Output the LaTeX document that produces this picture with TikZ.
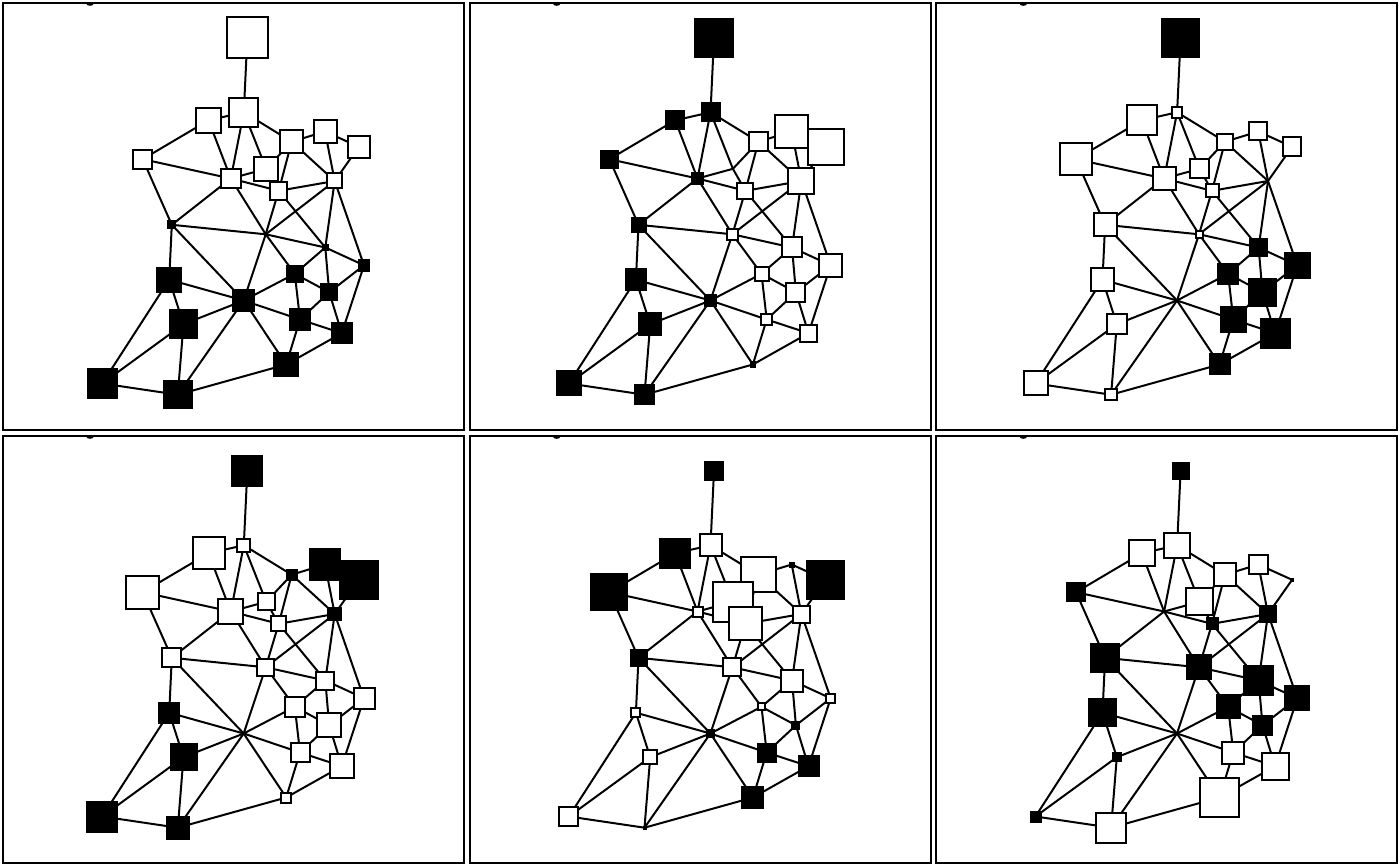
\documentclass[tikz,border=0pt]{standalone}
\usetikzlibrary{backgrounds}
\tikzset{
  nd/.style={rectangle, draw=black, line width=2pt, inner sep=0pt, outer sep=0pt},
  edge/.style={draw=black, line width=2pt},
  frame/.style={draw=black, line width=2pt},
  bump/.style={fill=black},
}
\newcommand\placecoords{%
  \foreach \n/\x/\y in {A/247.3/38, B/243.8/112.3, C/208.5/120.3, D/291.7/141.7,
    E/325/131.5, F/358.8/146.8, G/142.7/159.2, H/230.8/178.5, I/266.2/168.8,
    J/278.7/190.8, K/334.7/181, L/171.8/224.8, M/265.7/234.3, N/325.3/247.5,
    O/364/265.3, P/169.2/279.7, Q/294.8/273.8, R/329.2/292.3, S/243.7/300.5,
    T/183.5/324.2, U/300/319.5, V/341.8/333.2, W/286.2/364.5, X/102.2/383.5,
    Y/177.8/394.7} {\coordinate (c\n) at (\x,\y);}}
\newcommand\edgelist{A/B, B/C, B/H, B/I, B/D, C/G, C/H, D/E, D/I, D/J, D/K,
  E/F, E/K, F/K, G/H, G/L, H/I, H/J, H/L, H/M, I/J, J/K, J/M, J/N, K/M, K/N,
  K/O, L/M, L/P, L/S, M/N, M/Q, M/S, N/O, N/Q, N/R, O/R, O/V, P/S, P/T, P/X,
  Q/R, Q/S, Q/U, R/U, R/V, S/T, S/U, S/W, S/Y, T/X, T/Y, U/V, U/W, V/W, W/Y, X/Y}
\newcommand\panel[3]{%
  \begin{scope}[shift={(#2)}, name prefix=#1-]
    \draw[frame] (3,3) rectangle (464,430);
    \fill[bump] (90,4) ellipse (3.5 and 1.8);
    \placecoords
    \foreach \n/\s/\f in {#3} {\node[nd, minimum size=\s pt - 2pt, fill=\f] (\n) at (c\n) {};}
    \begin{pgfonlayer}{background}
      \foreach \a/\b in \edgelist {\draw[edge] (\a) -- (\b);}
    \end{pgfonlayer}
  \end{scope}}
\begin{document}
\begin{tikzpicture}[x=1pt, y=-1pt]
\useasboundingbox (0,0) rectangle (1400,866);
\panel{p1}{0,0}{A/43/white, B/31/white, C/27.5/white, D/25/white, E/25/white,
  F/24/white, G/21/white, H/21.6/white, I/26.3/white, J/19.5/white, K/17/white,
  L/9/black, M/2.5/white, N/6.5/black, O/12.7/black, P/26/black, Q/17.7/black,
  R/18/black, S/23.3/black, T/29.7/black, U/22.7/black, V/21.7/black,
  W/25.7/black, X/31/black, Y/29.5/black}
\panel{p2}{466.7,0}{A/39.5/black, B/20/black, C/20/black, D/21/white, E/35/white,
  F/38/white, G/19/black, H/12.5/black, I/2.5/white, J/18/white, K/28/white,
  L/16/black, M/13/white, N/22/white, O/25/white, P/22.6/black, Q/16/white,
  R/21/white, S/13/black, T/23.5/black, U/13/white, V/19/white, W/6.7/black,
  X/26/black, Y/21/black}
\panel{p3}{933.3,0}{A/39.5/black, B/12.5/white, C/32/white, D/17.7/white, E/20/white,
  F/20.7/white, G/34.5/white, H/25/white, I/20.7/white, J/15/white, K/2.5/black,
  L/25/white, M/9/white, N/19/black, O/27/black, P/25/white, Q/21.7/black,
  R/29/black, S/2.5/white, T/22/white, U/26.7/black, V/31/black, W/22/black,
  X/26/white, Y/13.5/white}
\panel{p4}{0,433}{A/32/black, B/15/white, C/34/white, D/11.7/black, E/32.5/black,
  F/40/black, G/35/white, H/27/white, I/18.7/white, J/17.3/white, K/14.7/black,
  L/21/white, M/19/white, N/20/white, O/23/white, P/22/black, Q/22/white,
  R/26/white, S/2.5/white, T/28/black, U/21/white, V/26/white, W/12/white,
  X/32/black, Y/24/black}
\panel{p5}{466.7,433}{A/20/black, B/24/white, C/31.5/black, D/37/white, E/6/black,
  F/39.5/black, G/38/black, H/12/white, I/42/white, J/35/white, K/19/white,
  L/18/black, M/20/white, N/24/white, O/11/white, P/11/white, Q/9/white,
  R/9/black, S/9/black, T/16/white, U/20/black, V/22/black, W/23/black,
  X/21/white, Y/4/black}
\panel{p6}{933.3,433}{A/18/black, B/27.5/white, C/28/white, D/24.7/white, E/21/white,
  F/4.5/black, G/20/black, H/2.5/white, I/29/white, J/13/black, K/18.3/black,
  L/30/black, M/26/black, N/31/black, O/26/black, P/29/black, Q/25/black,
  R/21/black, S/3/white, T/10/black, U/24/white, V/29/white, W/41/white,
  X/12/black, Y/32/white}
\end{tikzpicture}
\end{document}
